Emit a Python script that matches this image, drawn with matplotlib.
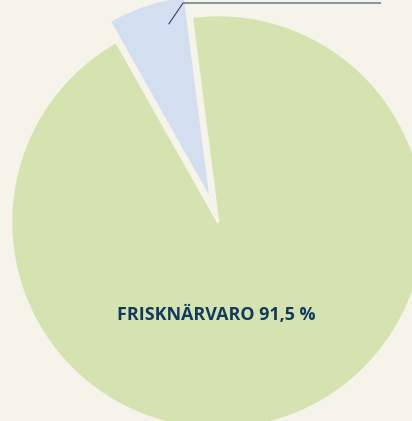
import numpy as np
import matplotlib
matplotlib.use("Agg")
import matplotlib.pyplot as plt

# share of working time
labels = ["Frisknärvaro", "Sjukfrånvaro"]
values = [91.5, 6.0]
colors = ["#d5e3b0", "#d3dff0"]

BG = "#f6f3eb"
NAVY = "#12395e"

W, H = 412, 421
fig = plt.figure(figsize=(W / 100, H / 100), dpi=100, facecolor=BG)
ax = fig.add_axes([0, 0, 1, 1])
ax.set_facecolor(BG)
ax.axis("off")

# axes units are pixels, so the pie can run off the right and bottom edges
center = (218, 199)
radius = 207
# pie() takes explode in data units, so scale it by the radius
explode = [0.0, 0.105 * radius]
wedges, _ = ax.pie(values, colors=colors, explode=explode, startangle=97.3,
                   counterclock=False, center=center, radius=radius,
                   wedgeprops=dict(edgecolor=BG, linewidth=1.9,
                                   joinstyle="round"))
ax.set_xlim(0, W)
ax.set_ylim(0, H)
ax.set_aspect("auto")

ax.text(216, 106, "FRISKNÄRVARO 91,5 %", ha="center", va="center",
        fontsize=12.9, fontweight="bold", color=NAVY, family="Open Sans")

# leader line for the small slice (its label sits outside the frame)
w = wedges[1]
t = np.deg2rad(w.theta1 + 0.28 * (w.theta2 - w.theta1))
cx, cy = w.center
x0 = cx + 0.88 * w.r * np.cos(t)
y0 = cy + 0.88 * w.r * np.sin(t)
ax.plot([x0, 183, 381], [y0, H - 3.0, H - 3.0], color="#1e3d5e",
        linewidth=0.75, solid_capstyle="butt")

fig.savefig("out.png", dpi=100, facecolor=BG)
